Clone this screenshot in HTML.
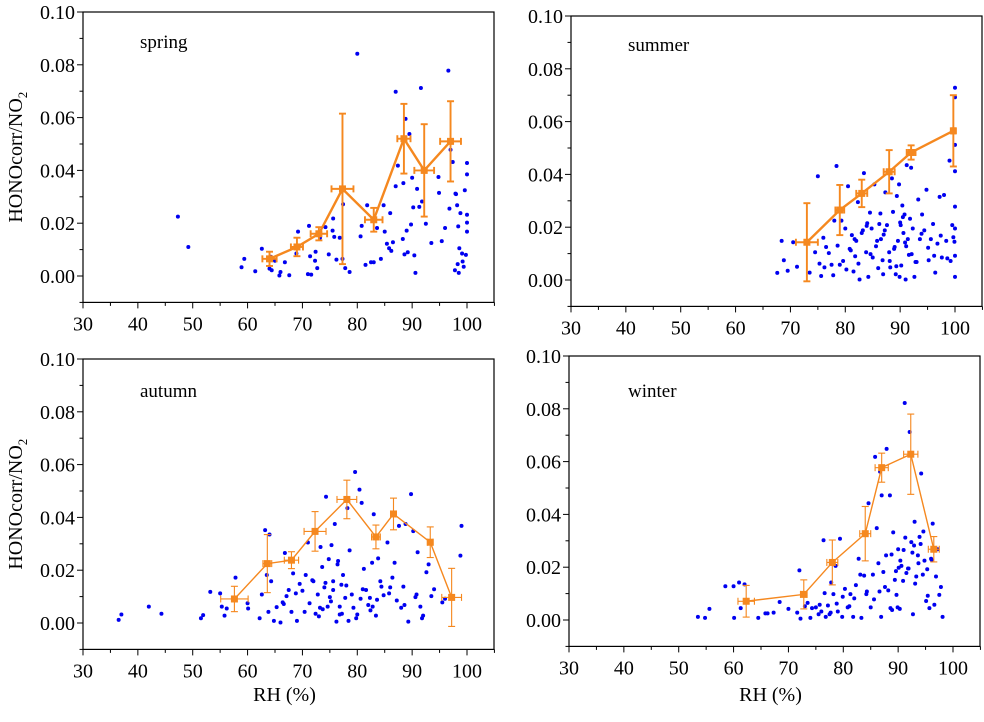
<!DOCTYPE html>
<html><head><meta charset="utf-8"><style>
html,body{margin:0;padding:0;background:#fff;}
svg, svg text{font-family:"Liberation Serif","Times New Roman",serif;}
</style></head><body>
<svg id="fig" width="984" height="717" viewBox="0 0 984 717" xmlns="http://www.w3.org/2000/svg" font-family="Liberation Serif, serif"></svg>
<script>
// ---- data ----
const springX=[47.3,49.2,58.9,59.4,61.4,62.6,64,64.2,64.4,65,65.8,66,66.8,67.6,68.9,69.2,71,71.2,71.4,71.6,72.3,72.4,72.7,73.2,74.2,74.8,75.5,75.6,75.8,76.2,76.8,77.3,77.4,77.8,78.6,80,80.6,80.8,81.5,81.8,82.5,83,83.6,84.8,85,85.4,85.8,86,86.5,87,87,87.4,88.3,88.4,88.6,88.8,89,89.2,89.5,89.8,90,90.2,90.4,90.6,90.9,91.3,91.6,91.8,92.5,94.8,94.9,95.4,96,96.6,96.8,97,97.4,97.8,98,98.2,98.4,98.6,98.8,99.2,99.6,100,100,100,100,100,99.8,98.5,97.9,98.3,99.1,99.4,86.2,84.3,93.5];
const springY=[.0225,.011,.0033,.0065,.0018,.0103,.0028,.0073,.0022,.0058,.0002,.0015,.0052,.0003,.0085,.0168,.0007,.019,.0075,.0005,.0058,.0092,.003,.0145,.0185,.0082,.0172,.0218,.0148,.0062,.0145,.0065,.0272,.003,.0015,.0842,.015,.019,.0042,.0268,.0052,.0052,.0182,.0268,.0168,.0122,.0105,.0238,.0128,.034,.0698,.0418,.014,.0352,.0082,.0595,.0172,.009,.0538,.0195,.0372,.026,.0078,.0012,.033,.0262,.0712,.0282,.0198,.0375,.0315,.0132,.0182,.0778,.0255,.0478,.0432,.0022,.031,.0268,.0188,.0105,.0238,.0055,.0325,.0385,.0428,.0232,.0202,.0168,.008,.0012,.0312,.0045,.0085,.0035,.0095,.0065,.0125,.0122,.0205];
const summerX=[67.6,68.4,68.8,69.5,70.5,71.2,73.5,74.5,75,75.3,75.6,76,76.5,77,77.5,78,78.4,78.6,79,79.3,80,80.2,80.5,81,81.2,81.5,81.8,82,82.3,82.6,83,83.4,83.8,84,84.2,84.5,84.8,85,85.3,85.6,86,86.2,86.5,86.8,87,87.3,87.6,88,88.2,88.5,88.7,89,89.2,89.4,89.6,89.8,90,90.2,90.4,90.6,90.8,91,91.2,91.4,91.6,91.8,92,92.3,92.6,93,93.3,93.6,94,94.4,94.8,95.2,95.6,96,96.4,96.8,97.2,97.6,98,98.4,99,99.2,99.5,99.7,99.9,100,100,100,100,100,100,100,100,76.2,77.8,79.6,80.8,82.4,83.2,84.6,85.8,86.4,87.2,88.9,89.3,90.1,90.5,91.1,92.8,93.9,95.1,96.2,97.4,98.6,81.7,83.9,86.9,88.1,89.9,90.9,92.1];
const summerY=[.0027,.0148,.0075,.0035,.0143,.005,.0028,.0105,.0393,.0062,.0015,.016,.0125,.0102,.0058,.0225,.0432,.013,.0058,.0225,.0195,.004,.0355,.0112,.017,.0032,.009,.0148,.0295,.0002,.0178,.0405,.0105,.0215,.0012,.0255,.0195,.0085,.0362,.0128,.0045,.0212,.0155,.0075,.0172,.0332,.0208,.0105,.0048,.0385,.0258,.0125,.0022,.0318,.0148,.0362,.0218,.0055,.0282,.0178,.0248,.0002,.0435,.0155,.0095,.0232,.0425,.0195,.0012,.0068,.0305,.0155,.0248,.0188,.0342,.0075,.0155,.0212,.0028,.0138,.0315,.0085,.0322,.0148,.0452,.0072,.0208,.0162,.0145,.0012,.0728,.0692,.0512,.0412,.0278,.0195,.0092,.0048,.0018,.0072,.0118,.0062,.0188,.0098,.0148,.0252,.0188,.0118,.0052,.0208,.0238,.0128,.0068,.0175,.0122,.0092,.0168,.0082,.0155,.0205,.0022,.0072,.0012,.0142,.0098,.0138];
const autumnX=[36.5,37,42,44.3,51.5,51.9,53.2,55,55.3,55.8,56.2,57.8,60,60.1,62.2,62.6,63.2,63.5,63.8,64,64.3,64.8,65.3,66,66.4,66.8,67.1,67.5,68,68.3,69,69.5,70,70.6,71,71.3,72,72.4,72.8,73,73.3,73.7,74,74.3,74.6,75,75.3,75.6,75.9,76.2,76.5,76.8,77.1,77.4,77.8,78.2,78.6,79,79.3,79.6,80,80.4,80.8,81.2,81.6,82,82.3,82.7,83,83.4,83.8,84.2,84.8,85.5,86,86.4,86.8,87.2,87.6,88,88.4,88.8,89.3,89.8,90.2,90.6,91,91.5,92,92.6,93,93.5,94,95.5,96,98.8,99,73.6,74.8,75.6,76.4,77.2,78.4,79.8,81,82.4,83.6,84.4,85.8,73.2,74.2,75.2,76.8,78,80.6,82.8,88.6,90.8,91.8,70.4,71.8,66.6,68.8];
const autumnY=[.0012,.0032,.0062,.0035,.0018,.003,.0118,.0112,.0062,.0028,.0055,.0172,.0075,.0055,.0018,.0108,.0352,.0182,.0042,.0335,.0158,.0008,.006,.0002,.0078,.0265,.0102,.0125,.0042,.0188,.0008,.0148,.0122,.0182,.0305,.0075,.0158,.0035,.0108,.0025,.0288,.0052,.0135,.0478,.0062,.0098,.0295,.0125,.0375,.0005,.0235,.0062,.0145,.0182,.0095,.0435,.0275,.0108,.0058,.0572,.0032,.0505,.0455,.0205,.0125,.0068,.0095,.0228,.0412,.0028,.0245,.0158,.0105,.0305,.0135,.0172,.0228,.0085,.0368,.0058,.0138,.0375,.0005,.0488,.0348,.0098,.0268,.0062,.0028,.0192,.0222,.0102,.0128,.0078,.0092,.0255,.0368,.0212,.0242,.0158,.0222,.0035,.0008,.0018,.0128,.0048,.0088,.0138,.0112,.0058,.0152,.0082,.0032,.0142,.0092,.0062,.0068,.0108,.0018,.0042,.0162,.0072,.0112,.0098,.0112,.0088,.0022,.0158,.0092,.0112];
const winterX=[53.5,54.8,55.6,58.5,60,60.1,61,61.3,62,64.5,65.8,66.2,67.3,68.4,70,71.6,72,72.2,73,73.5,74,74.3,75,75.5,76,76.4,76.8,77.2,77.5,77.8,78.2,78.6,79,79.4,79.8,80.3,80.8,81.3,81.8,82.3,82.8,83.3,83.8,84.2,84.6,85,85.4,85.8,86.1,86.4,86.7,87,87.3,87.6,87.9,88.2,88.5,88.8,89.1,89.4,89.7,90,90.3,90.6,90.9,91.2,91.5,91.8,92.1,92.4,92.7,93,93.3,93.6,93.9,94.2,94.5,94.8,95.1,95.4,95.7,96,96.3,96.6,96.9,97.2,97.5,97.8,98.1,85.6,86.6,87.8,88.6,89.6,90.4,91,91.9,92.9,93.7,94.6,95.3,96.1,84.3,83.1,82,81.1,79.9,78.8,77.7,76.6,75.7,86.9,88.9,89.9,91.3,92.6,93.1,94.1,90.1];
const winterY=[.0012,.0008,.0042,.0128,.0128,.0008,.0142,.0045,.0135,.0008,.0025,.0025,.0028,.0068,.0042,.0028,.0188,.0005,.0052,.0065,.0008,.0045,.0048,.0022,.0032,.0302,.0012,.0055,.0022,.0142,.0098,.0205,.0032,.0308,.0012,.0118,.0048,.0098,.0012,.0132,.0232,.0008,.0168,.0098,.0442,.0048,.0172,.0618,.0348,.0215,.0562,.0472,.0182,.0125,.0648,.0112,.0472,.0248,.0332,.0152,.0095,.0268,.0042,.0205,.0148,.0822,.0178,.0195,.0712,.0295,.0022,.0372,.0165,.0245,.0315,.0555,.0172,.0225,.0072,.0092,.0045,.0232,.0365,.0058,.0165,.0268,.0095,.0125,.0012,.0078,.0108,.0245,.0045,.0185,.0225,.0265,.0195,.0282,.0215,.0335,.0192,.0228,.0108,.0172,.0082,.0052,.0088,.0062,.0028,.0102,.0058,.0012,.0038,.0048,.0312,.0255,.0138,.0288,.0198,.0322,.0078,.0122];
// binned means
const springMx=[64,69,73,77.3,83,88.5,92.2,97];
const springMy=[.0065,.011,.016,.033,.0213,.052,.040,.051];
const springMe=[.0027,.0035,.0025,.0285,.0045,.0132,.0175,.0152];
const springXe=[1.3,1.1,1.5,2,1.6,1.2,1.8,1.9];
const summerMx=[73,79,83,88,92,99.7];
const summerMy=[.0143,.0265,.0328,.041,.0483,.0565];
const summerMe=[.0148,.0095,.0052,.0082,.0027,.0135];
const summerXe=[2,0.8,1,1,0.8,0.3];
const autumnMx=[57.6,63.6,68,72.3,78.1,83.4,86.6,93.3,97.2];
const autumnMy=[.0091,.0225,.0238,.0347,.0468,.0326,.0413,.0306,.0097];
const autumnMe=[.0048,.011,.0032,.0075,.0073,.0045,.006,.0058,.011];
const autumnXe=[2.5,0.8,1.3,2,1.8,0.8,0.5,0.5,1.8];
const winterMx=[62.3,72.8,78,84,87,92.3,96.5];
const winterMy=[.0071,.0097,.0218,.0327,.0577,.0628,.0268];
const winterMe=[.006,.0055,.0085,.0103,.0055,.0152,.0048];
const winterXe=[1.5,0.6,1,1,1.2,1.3,1];

const NS="http://www.w3.org/2000/svg";
const svg=document.getElementById('fig');
const FF='"Liberation Serif", "Times New Roman", serif';
function mk(tag,attrs,parent){const e=document.createElementNS(NS,tag);for(const k in attrs)e.setAttribute(k,attrs[k]);if(tag==='text')e.style.fontFamily=FF;(parent||svg).appendChild(e);return e;}

const panels=[
 {name:'spring',px:83,y10:12,y0:276,right:494,label:'spring',lx:140,ly:48,xs:springX,ys:springY,mx:springMx,my:springMy,me:springMe,xe:springXe,ylab:true,xlab:false,thick:2.4},
 {name:'summer',px:571,y10:16,y0:280,right:982,label:'summer',lx:628,ly:51,xs:summerX,ys:summerY,mx:summerMx,my:summerMy,me:summerMe,xe:summerXe,ylab:false,xlab:false,thick:2.4},
 {name:'autumn',px:83,y10:359,y0:623,right:494,label:'autumn',lx:140,ly:397,xs:autumnX,ys:autumnY,mx:autumnMx,my:autumnMy,me:autumnMe,xe:autumnXe,ylab:true,xlab:true,thick:1.4},
 {name:'winter',px:569,y10:356,y0:620,right:980,label:'winter',lx:628,ly:397,xs:winterX,ys:winterY,mx:winterMx,my:winterMy,me:winterMe,xe:winterXe,ylab:false,xlab:true,thick:1.4}
];
panels.forEach(p=>{
 const g=mk('g',{});
 
 
 const sx=v=>p.px+(v-30)*384/70;
 const sy=v=>p.y0-(v)*(p.y0-p.y10)/0.1;
 const top=p.y10, bottom=sy(-0.01);
 const frame=mk('rect',{x:p.px,y:top,width:p.right-p.px,height:bottom-top,fill:'none',stroke:'#000','stroke-width':1.2},g);
 
 
 for(let v=30;v<=105;v+=5){
  const x=sx(v);const major=v%10===0;
  mk('line',{x1:x,x2:x,y1:bottom,y2:bottom+(major?6:3.5),stroke:'#000','stroke-width':1},g);
  if(major&&v<=100){const t=mk('text',{x:x,y:bottom+28,'font-size':20,'text-anchor':'middle'},g);t.textContent=v;
   
   }
 }
 for(let i=0;i<=11;i++){
  const v=-0.01+i*0.01;const y=sy(v);const major=(i%2===1);
  mk('line',{x1:p.px,x2:p.px-(major?6:3.5),y1:y,y2:y,stroke:'#000','stroke-width':1},g);
  if(major){const t=mk('text',{x:p.px-8,y:y+7,'font-size':20,'text-anchor':'end'},g);t.textContent=Math.abs(v).toFixed(2);
   
   }
 }
 const lab=mk('text',{x:p.lx,y:p.ly,'font-size':19},g);lab.textContent=p.label;
 
 
 if(p.ylab){const cy=(top+bottom)/2;const t=mk('text',{x:0,y:0,'font-size':20,'text-anchor':'middle',transform:`translate(22,${cy}) rotate(-90)`},g);
  t.innerHTML='HONOcorr/NO<tspan font-size="13" dy="5">2</tspan>';
  
  }
 if(p.xlab){const t=mk('text',{x:(p.px+p.right)/2-4,y:701,'font-size':20,'text-anchor':'middle'},g);t.textContent='RH (%)';
  
  }
 for(let i=0;i<p.xs.length;i++){
  const c=mk('circle',{cx:sx(p.xs[i]),cy:sy(p.ys[i]),r:2,fill:'#0000f0'},g);
  
  
 }
 const col='#f5881f';
 const pts=p.mx.map((v,i)=>sx(v)+','+sy(p.my[i])).join(' ');
 const pl=mk('polyline',{points:pts,fill:'none',stroke:col,'stroke-width':p.thick},g);
 
 
 for(let i=0;i<p.mx.length;i++){
  const x=sx(p.mx[i]),y=sy(p.my[i]),yt=sy(p.my[i]+p.me[i]),yb=sy(p.my[i]-p.me[i]);
  const xl=sx(p.mx[i]-p.xe[i]),xr=sx(p.mx[i]+p.xe[i]);
  const eg=mk('g',{stroke:col,'stroke-width':p.thick*0.8},g);
  
  
  mk('line',{x1:x,x2:x,y1:yt,y2:yb},eg);
  mk('line',{x1:x-3.5,x2:x+3.5,y1:yt,y2:yt},eg);
  mk('line',{x1:x-3.5,x2:x+3.5,y1:yb,y2:yb},eg);
  mk('line',{x1:xl,x2:xr,y1:y,y2:y},eg);
  mk('line',{x1:xl,x2:xl,y1:y-3.5,y2:y+3.5},eg);
  mk('line',{x1:xr,x2:xr,y1:y-3.5,y2:y+3.5},eg);
  const m=mk('rect',{x:x-3.5,y:y-3.5,width:7,height:7,fill:col},g);
  
  
 }
});
</script>
</body></html>
